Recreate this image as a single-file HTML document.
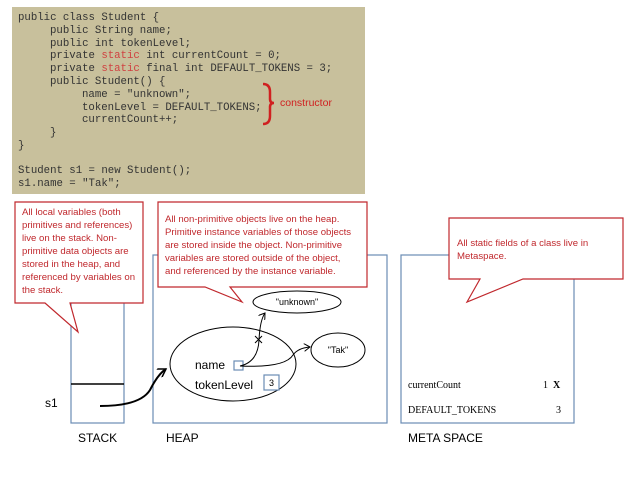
<!DOCTYPE html>
<html><head><meta charset="utf-8"><style>
html,body{margin:0;padding:0;background:#fff;}
svg{display:block;}
</style></head><body>
<svg width="638" height="479" viewBox="0 0 638 479" xmlns="http://www.w3.org/2000/svg">
<defs>
<marker id="ah" markerWidth="8" markerHeight="8" refX="6" refY="4" orient="auto" markerUnits="userSpaceOnUse">
<path d="M0,0 L6,4 L0,8" fill="none" stroke="#000" stroke-width="1"/>
</marker>
<marker id="ah2" markerWidth="10" markerHeight="10" refX="8" refY="5" orient="auto" markerUnits="userSpaceOnUse">
<path d="M0,0 L8,5 L0,10" fill="none" stroke="#000" stroke-width="1.5"/>
</marker>
</defs>
<rect x="12" y="7" width="353" height="187" fill="#c8c09c"/>
<g font-family="Liberation Mono, monospace" font-size="10.7" fill="#333">
<text x="18" y="20">public class Student {</text>
<text x="50" y="33">public String name;</text>
<text x="50" y="46">public int tokenLevel;</text>
<text x="50" y="58">private <tspan fill="#d04040">static</tspan> int currentCount = 0;</text>
<text x="50" y="71">private <tspan fill="#d04040">static</tspan> final int DEFAULT_TOKENS = 3;</text>
<text x="50" y="84">public Student() {</text>
<text x="82" y="97">name = "unknown";</text>
<text x="82" y="110">tokenLevel = DEFAULT_TOKENS;</text>
<text x="82" y="122">currentCount++;</text>
<text x="50" y="135">}</text>
<text x="18" y="148">}</text>
<text x="18" y="173">Student s1 = new Student();</text>
<text x="18" y="186">s1.name = "Tak";</text>
</g>
<path d="M263,84 Q270,84 270,92 L270,99 Q270,103 274,103 Q270,103 270,107 L270,116 Q270,124 263,124" fill="none" stroke="#d02020" stroke-width="2.5"/>
<text x="280" y="106" font-family="Liberation Sans, sans-serif" font-size="10.5" fill="#d02020">constructor</text>

<g fill="none" stroke="#6a8cb4" stroke-width="1.2">
<rect x="71" y="255" width="53" height="168"/>
<rect x="153" y="255" width="234" height="168"/>
<rect x="401" y="255" width="173" height="168"/>
</g>
<line x1="71" y1="384" x2="124" y2="384" stroke="#000" stroke-width="1.5"/>

<ellipse cx="233" cy="364" rx="63" ry="37" fill="#fff" stroke="#000" stroke-width="1"/>
<ellipse cx="297" cy="302" rx="44" ry="11" fill="#fff" stroke="#000" stroke-width="1"/>
<ellipse cx="338" cy="350" rx="27" ry="17" fill="#fff" stroke="#000" stroke-width="1"/>
<text x="297" y="305" text-anchor="middle" font-family="Liberation Sans, sans-serif" font-size="9">"unknown"</text>
<text x="338" y="353" text-anchor="middle" font-family="Liberation Sans, sans-serif" font-size="9">"Tak"</text>

<g font-family="Liberation Sans, sans-serif" font-size="12" fill="#000">
<text x="45" y="407">s1</text>
<text x="78" y="442">STACK</text>
<text x="166" y="442">HEAP</text>
<text x="408" y="442">META SPACE</text>
<text x="195" y="369">name</text>
<text x="195" y="389">tokenLevel</text>
</g>

<rect x="234" y="361" width="9" height="9" fill="#fff" stroke="#6a8cb4" stroke-width="1.2"/>
<rect x="264" y="375" width="15" height="15" fill="#fff" stroke="#6a8cb4" stroke-width="1.2"/>
<text x="271.5" y="386" text-anchor="middle" font-family="Liberation Sans, sans-serif" font-size="9">3</text>

<path d="M240,366 Q258,362 259,340 Q260,320 265,313" fill="none" stroke="#000" stroke-width="1" marker-end="url(#ah)"/>
<path d="M255,336 L262,343 M262,336 L255,343" stroke="#000" stroke-width="1"/>
<path d="M240,366 Q285,368 293,355 Q298,348 310,347" fill="none" stroke="#000" stroke-width="1" marker-end="url(#ah)"/>
<path d="M100,406 Q140,406 150,390 Q158,374 166,369" fill="none" stroke="#000" stroke-width="2" marker-end="url(#ah2)"/>

<g font-family="Liberation Serif, serif" font-size="10" fill="#000">
<text x="408" y="388">currentCount</text>
<text x="543" y="388">1</text>
<text x="553" y="388" font-weight="bold">X</text>
<text x="408" y="413">DEFAULT_TOKENS</text>
<text x="556" y="413">3</text>
</g>

<g fill="#fff" stroke="#c0282d" stroke-width="1.2">
<path d="M15,202 H143 V303 H70 L78,332 L45,303 H15 Z"/>
<path d="M158,202 H367 V287 H230 L242,302 L205,287 H158 Z"/>
<path d="M449,218 H623 V279 H523 L467,302 L480,279 H449 Z"/>
</g>
<g font-family="Liberation Sans, sans-serif" font-size="9.6" fill="#c0282d">
<text x="22" y="215">All local variables (both</text>
<text x="22" y="228">primitives and references)</text>
<text x="22" y="241">live on the stack.  Non-</text>
<text x="22" y="254">primitive data objects are</text>
<text x="22" y="267">stored in the heap, and</text>
<text x="22" y="280">referenced by variables on</text>
<text x="22" y="293">the stack.</text>
<text x="165" y="222">All non-primitive objects live on the heap.</text>
<text x="165" y="235">Primitive instance variables of those objects</text>
<text x="165" y="248">are stored inside the object.  Non-primitive</text>
<text x="165" y="261">variables are stored outside of the object,</text>
<text x="165" y="274">and referenced by the instance variable.</text>
<text x="457" y="246">All static fields of a class live in</text>
<text x="457" y="259">Metaspace.</text>
</g>
</svg>
</body></html>
